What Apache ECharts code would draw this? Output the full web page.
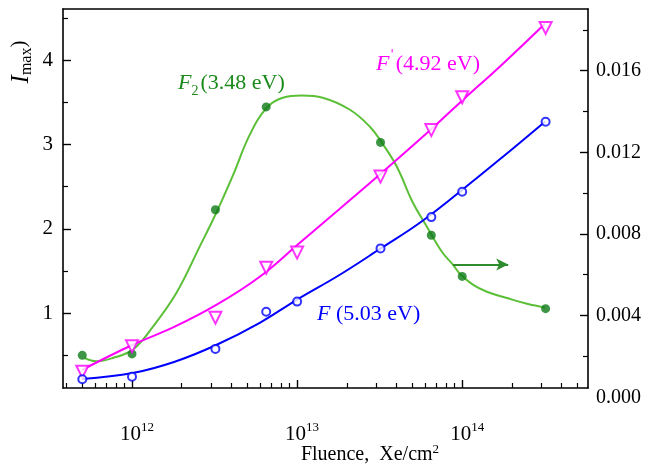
<!DOCTYPE html>
<html>
<head>
<meta charset="utf-8">
<script src="https://cdn.jsdelivr.net/npm/echarts@6/dist/echarts.min.js"></script>
<style>
html,body{margin:0;padding:0;background:#fff;}
#chart{width:650px;height:468px;}
</style>
</head>
<body>
<div id="chart"></div>
<script>
// ---------------- data ----------------
const fluence = [5e11, 1e12, 3.2e12, 6.5e12, 1e13, 3.2e13, 6.5e13, 1e14, 3.2e14];
const F_503 = [0.22, 0.25, 0.58, 1.02, 1.14, 1.77, 2.14, 2.44, 3.27];
const Fp_492 = [0.31, 0.61, 0.95, 1.54, 1.72, 2.62, 3.17, 3.56, 4.38];
const F2_fluence = [5e11, 1e12, 3.2e12, 6.5e12, 3.2e13, 6.5e13, 1e14, 3.2e14];
const F2_348 = [0.00204, 0.00211, 0.00918, 0.01422, 0.01248, 0.00793, 0.00591, 0.00433];

// fitted curves as drawn in the reference (sampled along each curve)
const F_fitX = [5.0e11, 1.01e12, 1.815e12, 3.26e12, 5.94e12, 9.95e12, 1.815e13, 3.26e13, 5.54e13, 9.68e13, 1.765e14, 3.17e14];
const F_fitY = [0.223, 0.294, 0.428, 0.629, 0.889, 1.161, 1.458, 1.778, 2.074, 2.441, 2.855, 3.270];
const Fp_fitX = [5.0e11, 1.01e12, 1.815e12, 3.26e12, 5.94e12, 1.039e13, 1.815e13, 3.31e13, 6.64e13, 9.68e13, 1.765e14, 3.17e14];
const Fp_fitY = [0.333, 0.629, 0.843, 1.103, 1.434, 1.837, 2.240, 2.678, 3.199, 3.495, 3.957, 4.430];
const F2_fitX = [5.17e11, 6.11e11, 7.64e11, 1.01e12, 1.34e12, 1.86e12, 2.57e12, 3.24e12, 4.08e12, 5.17e12, 6.55e12, 8.19e12, 1.068e13, 1.43e13, 2.09e13, 2.76e13, 3.26e13, 4.02e13, 5.03e13, 6.11e13, 7.53e13, 8.78e13, 9.68e13, 1.16e14, 1.41e14, 1.87e14, 2.47e14, 3.17e14];
const F2_fitY = [0.00191, 0.00175, 0.00191, 0.00232, 0.00345, 0.00511, 0.00737, 0.00903, 0.01085, 0.01286, 0.01418, 0.01467, 0.01478, 0.01467, 0.01408, 0.01325, 0.01247, 0.01129, 0.00952, 0.00835, 0.00712, 0.00649, 0.00604, 0.00551, 0.00516, 0.00485, 0.00457, 0.00438];

// arrow pointing to the right axis (data coords)
const arrowFrom = [8.8e13, 0.00649];
const arrowTo = [1.9e14, 0.00649];

// ticks / labels
const xMajorTicks = [1e12, 1e13, 1e14];
const xMinorTicks = [4e11, 5e11, 6e11, 7e11, 8e11, 9e11,
  2e12, 3e12, 4e12, 5e12, 6e12, 7e12, 8e12, 9e12,
  2e13, 3e13, 4e13, 5e13, 6e13, 7e13, 8e13, 9e13,
  2e14, 3e14, 4e14, 5e14];
const leftTicks = [1, 2, 3, 4];
const leftMinor = [0.5, 1.5, 2.5, 3.5, 4.5];
const rightTicks = [0, 0.004, 0.008, 0.012, 0.016];
const rightMajorInside = [0.004, 0.008, 0.012, 0.016];
const rightMinor = [0.002, 0.006, 0.010, 0.014, 0.018];

const xMin = 3.82e11, xMax = 5.78e14;
const leftMin = 0.117, leftMax = 4.604;
const rightMin = 0.00044, rightMax = 0.01902;

// ---------------- chart ----------------
const FONT = '"Liberation Serif", "Times New Roman", serif';
const GREEN_LINE = '#5cbf38';
const GREEN_PT = '#0c7a16';
const GREEN_TXT = '#1b8a1b';
const PINK = '#ff00ff';
const BLUE = '#0000ff';
const AX = { lineStyle: { color: '#000', width: 1.6 } };

const chart = echarts.init(document.getElementById('chart'));

const zip = (a, b) => a.map((v, i) => [v, b[i]]);

const option = {
  animation: false,
  backgroundColor: '#fff',
  grid: [
    { left: 63, right: 62, top: 9, bottom: 80 },
    { left: 63, right: 62, top: 9, bottom: 70.7 }
  ],
  xAxis: [
    { // main bottom axis with major ticks + labels
      gridIndex: 0, type: 'log', logBase: 10, min: xMin, max: xMax, position: 'bottom',
      axisLine: AX,
      axisTick: { show: true, inside: true, length: 8, lineStyle: { color: '#000', width: 1.4 }, customValues: xMajorTicks },
      axisLabel: {
        show: true, margin: 33, padding: [0, 0, 0, 10],
        customValues: xMajorTicks,
        formatter: v => '{b|10}{s|' + Math.round(Math.log10(v)) + '}',
        rich: {
          b: { fontFamily: FONT, fontSize: 21, color: '#000', lineHeight: 24, verticalAlign: 'bottom' },
          s: { fontFamily: FONT, fontSize: 13, color: '#000', lineHeight: 24, verticalAlign: 'top', padding: [0, 0, 10, 0] }
        }
      },
      splitLine: { show: false }
    },
    { // minor ticks
      gridIndex: 0, type: 'log', logBase: 10, min: xMin, max: xMax, position: 'bottom',
      axisLine: { show: false },
      axisTick: { show: true, inside: true, length: 5, lineStyle: { color: '#000', width: 1.2 }, customValues: xMinorTicks },
      axisLabel: { show: false },
      splitLine: { show: false }
    },
    { // top frame
      gridIndex: 0, type: 'log', logBase: 10, min: xMin, max: xMax, position: 'top',
      axisLine: AX, axisTick: { show: false }, axisLabel: { show: false }, splitLine: { show: false }
    },
    { // helper for label grid
      gridIndex: 1, type: 'log', logBase: 10, min: xMin, max: xMax, show: false
    }
  ],
  yAxis: [
    { // left main
      gridIndex: 0, type: 'value', min: leftMin, max: leftMax, position: 'left',
      axisLine: AX,
      axisTick: { show: true, inside: true, length: 8, lineStyle: { color: '#000', width: 1.4 }, customValues: leftTicks },
      axisLabel: { show: true, margin: 10, customValues: leftTicks, fontFamily: FONT, fontSize: 21, color: '#000' },
      splitLine: { show: false }
    },
    { // left minor
      gridIndex: 0, type: 'value', min: leftMin, max: leftMax, position: 'left',
      axisLine: { show: false },
      axisTick: { show: true, inside: true, length: 5, lineStyle: { color: '#000', width: 1.2 }, customValues: leftMinor },
      axisLabel: { show: false }, splitLine: { show: false }
    },
    { // right main (data axis for F2)
      gridIndex: 0, type: 'value', min: rightMin, max: rightMax, position: 'right',
      axisLine: AX,
      axisTick: { show: true, inside: true, length: 8, lineStyle: { color: '#000', width: 1.4 }, customValues: rightMajorInside },
      axisLabel: { show: false }, splitLine: { show: false }
    },
    { // right minor
      gridIndex: 0, type: 'value', min: rightMin, max: rightMax, position: 'right',
      axisLine: { show: false },
      axisTick: { show: true, inside: true, length: 5, lineStyle: { color: '#000', width: 1.2 }, customValues: rightMinor },
      axisLabel: { show: false }, splitLine: { show: false }
    },
    { // right labels (0 sits just below the frame, as in the reference)
      gridIndex: 1, type: 'value', min: 0, max: rightMax, position: 'right',
      axisLine: { show: false }, axisTick: { show: false },
      axisLabel: { show: true, margin: 8, customValues: rightTicks, formatter: v => v.toFixed(3), fontFamily: FONT, fontSize: 20, color: '#000' },
      splitLine: { show: false }
    }
  ],
  series: [
    {
      name: 'F2 fit', type: 'line', xAxisIndex: 0, yAxisIndex: 2,
      data: zip(F2_fitX, F2_fitY), smooth: 0.4, showSymbol: false, symbol: 'none',
      lineStyle: { color: GREEN_LINE, width: 2 }, silent: true, z: 2
    },
    {
      name: "F' fit", type: 'line', xAxisIndex: 0, yAxisIndex: 0,
      data: zip(Fp_fitX, Fp_fitY), smooth: 0.4, showSymbol: false, symbol: 'none',
      lineStyle: { color: PINK, width: 2 }, silent: true, z: 2
    },
    {
      name: 'F fit', type: 'line', xAxisIndex: 0, yAxisIndex: 0,
      data: zip(F_fitX, F_fitY), smooth: 0.4, showSymbol: false, symbol: 'none',
      lineStyle: { color: BLUE, width: 2 }, silent: true, z: 2
    },
    {
      name: 'F2 (3.48 eV)', type: 'scatter', xAxisIndex: 0, yAxisIndex: 2,
      data: zip(F2_fluence, F2_348), symbol: 'circle', symbolSize: 9,
      itemStyle: { color: GREEN_PT }, z: 4,
      markLine: {
        silent: true, symbol: ['none', 'arrow'], symbolSize: [9, 12],
        label: { show: false },
        lineStyle: { type: 'solid', color: '#2e8b2e', width: 2 },
        data: [[{ coord: arrowFrom }, { coord: arrowTo }]]
      }
    },
    {
      name: "F' (4.92 eV)", type: 'scatter', xAxisIndex: 0, yAxisIndex: 0,
      data: zip(fluence, Fp_492), symbol: 'emptyTriangle', symbolRotate: 180, symbolSize: 12,
      itemStyle: { color: PINK, borderWidth: 1.8 }, z: 4
    },
    {
      name: 'F (5.03 eV)', type: 'scatter', xAxisIndex: 0, yAxisIndex: 0,
      data: zip(fluence, F_503), symbol: 'emptyCircle', symbolSize: 8,
      itemStyle: { color: BLUE, borderWidth: 2 }, z: 4
    }
  ],
  graphic: [
    { // y-axis title
      type: 'text', x: 22, y: 62, rotation: Math.PI / 2,
      style: {
        text: '{i|I}{sub|max}{n|)}', x: 0, y: 0,
        textAlign: 'center', textVerticalAlign: 'middle', align: 'center', verticalAlign: 'middle',
        rich: {
          i: { fontFamily: FONT, fontStyle: 'italic', fontSize: 25, fill: '#000', color: '#000', lineHeight: 26, verticalAlign: 'top' },
          sub: { fontFamily: FONT, fontSize: 16, fill: '#000', color: '#000', lineHeight: 26, verticalAlign: 'bottom', padding: [6, 0, 0, 0] },
          n: { fontFamily: FONT, fontSize: 21, fill: '#000', color: '#000', lineHeight: 26, verticalAlign: 'top' }
        }
      }
    },
    { // x-axis title
      type: 'text', x: 370, y: 454,
      style: {
        text: '{n|Fluence,  Xe/cm}{s|2}', x: 0, y: 0,
        textAlign: 'center', textVerticalAlign: 'middle', align: 'center', verticalAlign: 'middle',
        rich: {
          n: { fontFamily: FONT, fontSize: 20, fill: '#000', color: '#000', lineHeight: 22, verticalAlign: 'bottom' },
          s: { fontFamily: FONT, fontSize: 13, fill: '#000', color: '#000', lineHeight: 22, verticalAlign: 'top', padding: [0, 0, 8, 0] }
        }
      }
    },
    { // F2 label
      type: 'text', x: 178, y: 85,
      style: {
        text: '{i|F}{sub|2}{n|(3.48 eV)}', x: 0, y: 0,
        textAlign: 'left', textVerticalAlign: 'middle', align: 'left', verticalAlign: 'middle',
        rich: {
          i: { fontFamily: FONT, fontStyle: 'italic', fontSize: 22, fill: GREEN_TXT, color: GREEN_TXT, lineHeight: 26, verticalAlign: 'top' },
          sub: { fontFamily: FONT, fontSize: 14, fill: GREEN_TXT, color: GREEN_TXT, lineHeight: 26, verticalAlign: 'bottom', padding: [0, 2, 0, 0] },
          n: { fontFamily: FONT, fontSize: 22, fill: GREEN_TXT, color: GREEN_TXT, lineHeight: 26, verticalAlign: 'top' }
        }
      }
    },
    { // F' label
      type: 'text', x: 376, y: 62,
      style: {
        text: "{i|F}{sup|'}{n|(4.92 eV)}", x: 0, y: 0,
        textAlign: 'left', textVerticalAlign: 'middle', align: 'left', verticalAlign: 'middle',
        rich: {
          i: { fontFamily: FONT, fontStyle: 'italic', fontSize: 22, fill: PINK, color: PINK, lineHeight: 26, verticalAlign: 'bottom' },
          sup: { fontFamily: '"DejaVu Sans", sans-serif', fontSize: 12, fill: PINK, color: PINK, lineHeight: 26, verticalAlign: 'top', padding: [0, 2, 0, 1] },
          n: { fontFamily: FONT, fontSize: 22, fill: PINK, color: PINK, lineHeight: 26, verticalAlign: 'bottom' }
        }
      }
    },
    { // F label
      type: 'text', x: 317, y: 314,
      style: {
        text: '{i|F}{n| (5.03 eV)}', x: 0, y: 0,
        textAlign: 'left', textVerticalAlign: 'middle', align: 'left', verticalAlign: 'middle',
        rich: {
          i: { fontFamily: FONT, fontStyle: 'italic', fontSize: 22, fill: BLUE, color: BLUE },
          n: { fontFamily: FONT, fontSize: 22, fill: BLUE, color: BLUE }
        }
      }
    }
  ]
};

chart.setOption(option);
</script>
</body>
</html>
